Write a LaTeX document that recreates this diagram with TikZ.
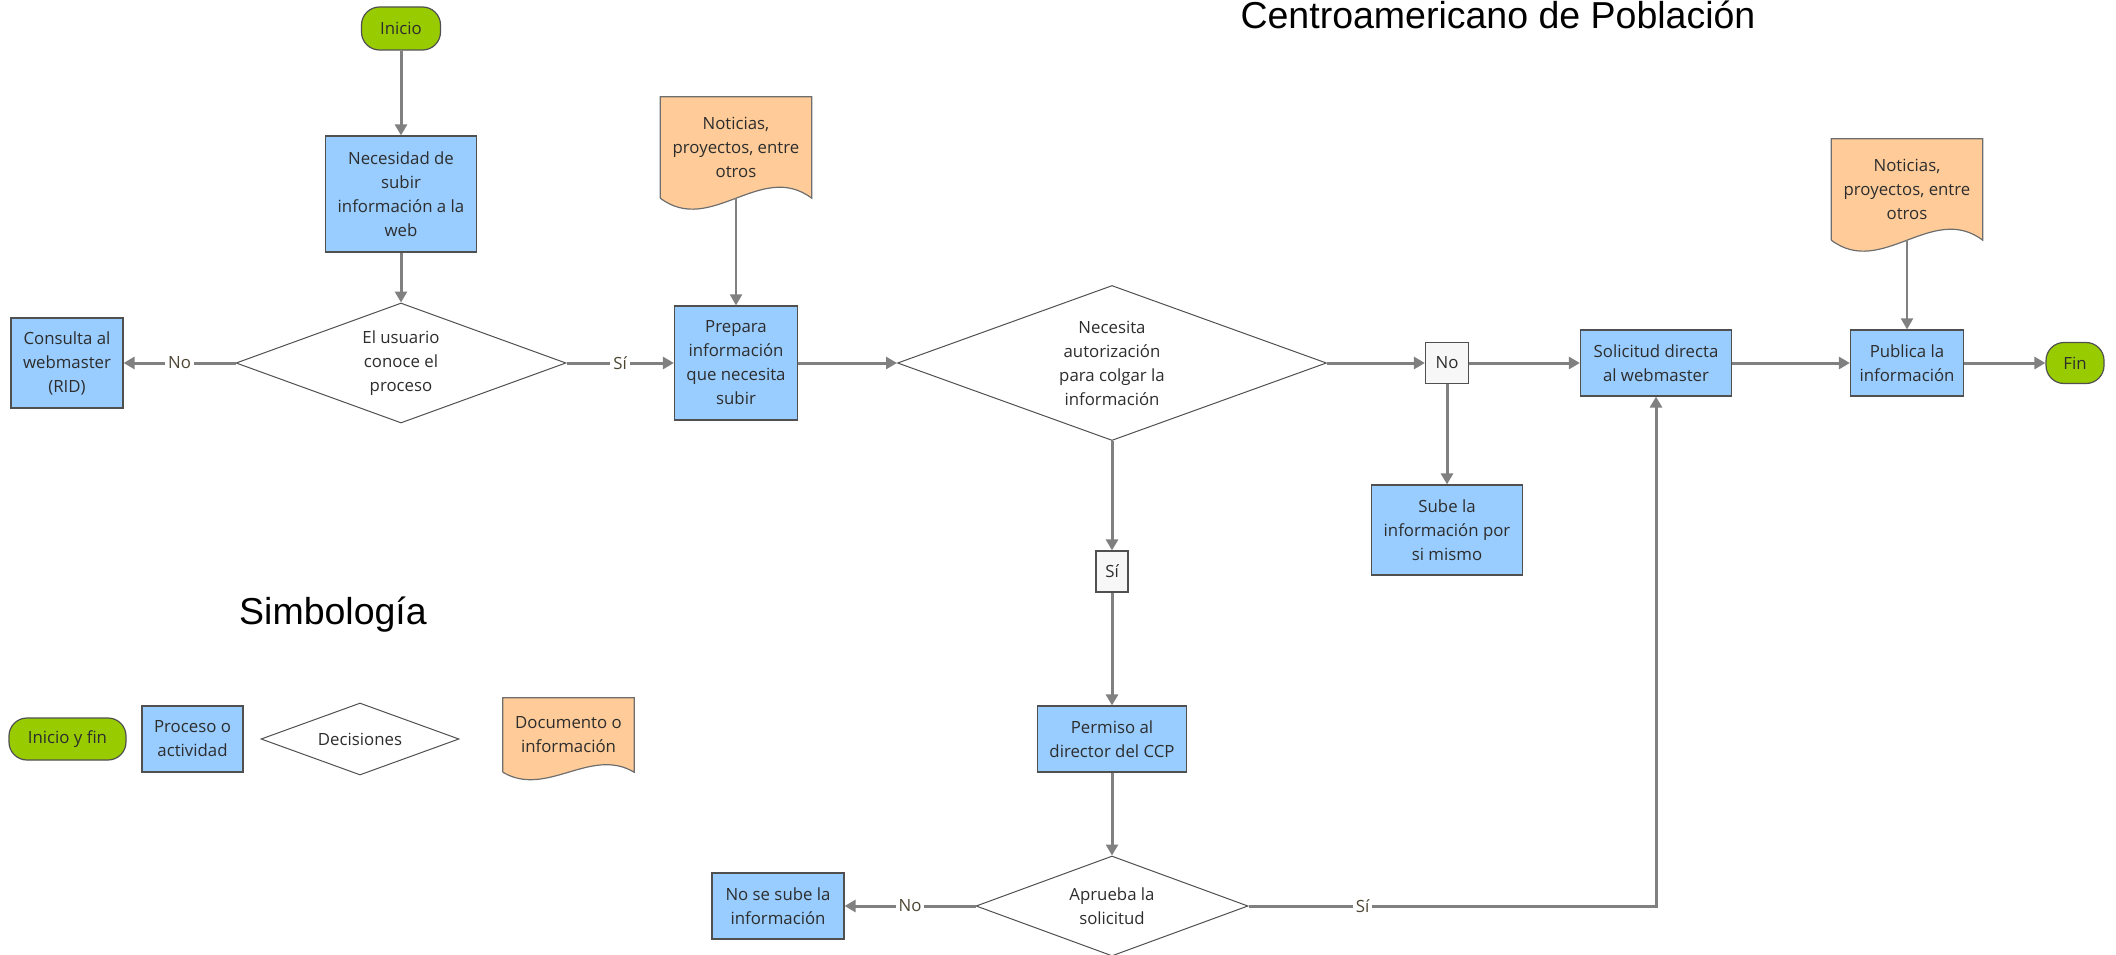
\documentclass[tikz,border=0pt]{standalone}
\usepackage{fontspec}
\setmainfont{Open Sans}
\newfontfamily\headfont{Liberation Sans}
\usepackage{tikz}
\usetikzlibrary{arrows.meta,shapes.geometric,calc,backgrounds}
\usepackage{xcolor}
\definecolor{linegray}{RGB}{128,128,128}
\definecolor{edgegray}{RGB}{80,80,80}
\definecolor{docedge}{RGB}{110,110,110}
\definecolor{textgray}{RGB}{45,45,45}
\definecolor{labelolive}{RGB}{77,70,51}
\definecolor{startgreen}{RGB}{153,204,0}
\definecolor{procblue}{RGB}{153,204,255}
\definecolor{docorange}{RGB}{255,204,153}
\definecolor{tagwhite}{RGB}{247,247,247}
\tikzset{
  chart/.style={x=1pt,y=-1pt,font=\fontsize{16.8}{24}\selectfont,text=textgray},
  block/.style={draw=edgegray,line width=1.2pt,align=center,inner sep=0pt},
  terminal/.style={block,fill=startgreen,rounded corners=18pt},
  process/.style={block,fill=procblue},
  decision/.style={diamond,aspect=2.75,draw=edgegray,line width=1pt,fill=white,align=center,inner sep=0pt},
  document/.style={align=center,inner sep=0pt},
  tag/.style={block,fill=tagwhite},
  flow/.style={-{Triangle[length=11pt,width=12pt]},line width=3pt,draw=linegray},
  docflow/.style={flow,line width=2pt},
  answer/.style={fill=white,text=labelolive,inner sep=3pt},
  heading/.style={font=\headfont\fontsize{37.5}{42}\selectfont,text=black,anchor=base},
}
\newcommand{\docsheet}[2]{%
  \begin{scope}[on background layer]
  \filldraw[fill=docorange,draw=docedge,line width=1.2pt]
    (#1.south west) -- (#1.north west) -- (#1.north east) -- (#1.south east)
    .. controls ($(#1.south east)!0.333!(#1.south west)+(0,-#2)$)
    and ($(#1.south east)!0.667!(#1.south west)+(0,#2)$) .. (#1.south west);
  \end{scope}}

\begin{document}
\begin{tikzpicture}[chart]
\useasboundingbox (0,0) rectangle (2116,955);
\node[heading] (title) at (1498,29) {Centroamericano de Población};
\node[heading] (simbologia) at (333,624) {Simbología};

\node[terminal,minimum width=79,minimum height=43] (inicio) at (401,28.5) {Inicio};
\node[process,minimum width=151,minimum height=116] (necesidad) at (401,194) {Necesidad de\\subir\\información a la\\web};
\node[decision,minimum width=330,minimum height=120] (usuario) at (401,363) {El usuario\\conoce el\\proceso};
\node[process,minimum width=112,minimum height=90] (consulta) at (67,363) {Consulta al\\webmaster\\(RID)};
\node[process,minimum width=123,minimum height=114] (prepara) at (736,363) {Prepara\\información\\que necesita\\subir};
\node[document,minimum width=151,minimum height=101] (doc1) at (736,147.5) {Noticias,\\proyectos, entre\\otros};
\node[decision,minimum width=429,minimum height=155] (necesita) at (1112,363) {Necesita\\autorización\\para colgar la\\información};
\node[tag,minimum width=43,minimum height=41] (notag) at (1447,363) {No};
\node[process,minimum width=151,minimum height=66] (solicitud) at (1656,363) {Solicitud directa\\al webmaster};
\node[process,minimum width=113,minimum height=66] (publica) at (1907,363) {Publica la\\información};
\node[terminal,minimum width=58,minimum height=41] (fin) at (2075,363) {Fin};
\node[document,minimum width=151,minimum height=101] (doc2) at (1907,189.5) {Noticias,\\proyectos, entre\\otros};
\node[process,minimum width=151,minimum height=90] (sube) at (1447,530) {Sube la\\información por\\si mismo};
\node[tag,minimum width=32,minimum height=41] (sitag) at (1112,571.5) {Sí};
\node[process,minimum width=149,minimum height=66] (permiso) at (1112,739) {Permiso al\\director del CCP};
\node[decision,minimum width=272,minimum height=100] (aprueba) at (1112,906) {Aprueba la\\solicitud};
\node[process,minimum width=132,minimum height=66] (nosube) at (778,906) {No se sube la\\información};

\node[terminal,minimum width=117,minimum height=42] (leyinicio) at (67.5,739) {Inicio y fin};
\node[process,minimum width=101,minimum height=66] (leyproceso) at (192.5,739) {Proceso o\\actividad};
\node[decision,minimum width=198,minimum height=72] (leydecision) at (360,739) {Decisiones};
\node[document,minimum width=131,minimum height=74] (leydoc) at (568.5,735) {Documento o\\información};

\docsheet{doc1}{38}
\docsheet{doc2}{38}
\docsheet{leydoc}{26}

\foreach \a/\b in {inicio/necesidad,necesidad/usuario,prepara/necesita,necesita/notag,notag/solicitud,notag/sube,necesita/sitag,sitag/permiso,permiso/aprueba,solicitud/publica,publica/fin}
  {\draw[flow] (\a) -- (\b);}
\foreach \a/\b in {doc1/prepara,doc2/publica}
  {\draw[docflow] (\a) -- (\b);}
\draw[flow] (usuario.west) -- node[answer] {No} (consulta.east);
\draw[flow] (usuario.east) -- node[answer] {Sí} (prepara.west);
\draw[flow] (aprueba.west) -- node[answer] {No} (nosube.east);
\draw[flow] (aprueba.east) -| node[answer,pos=0.14] {Sí} (solicitud.south);
\end{tikzpicture}
\end{document}
